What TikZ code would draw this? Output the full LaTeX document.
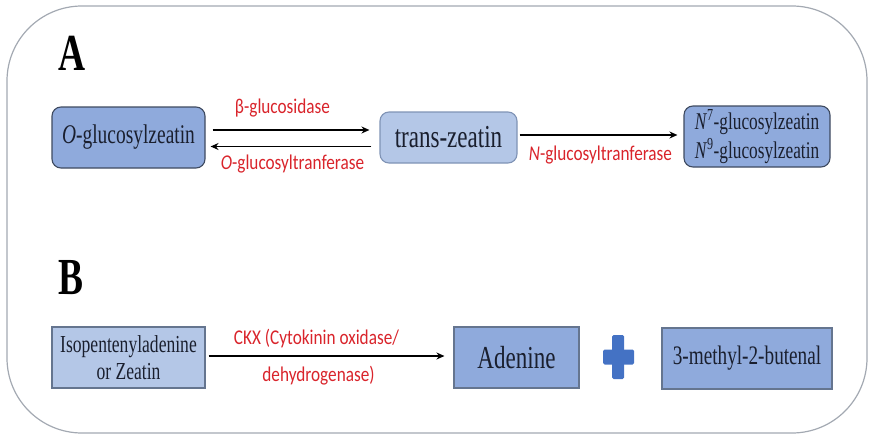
\documentclass[tikz,border=0pt]{standalone}
\usepackage{fontspec}
\newfontfamily\boxfont{Liberation Serif}[FakeStretch=0.72]
\newfontfamily\enzfont{Carlito}[FakeStretch=0.82]
\usetikzlibrary{arrows.meta}
\definecolor{boxdark}{HTML}{8FAADC}
\definecolor{boxlight}{HTML}{B4C7E7}
\definecolor{edgedark}{HTML}{3E4A60}
\definecolor{edgelight}{HTML}{7F93B5}
\definecolor{edgemid}{HTML}{65758F}
\definecolor{enzred}{HTML}{D9242B}
\definecolor{plusblue}{HTML}{4472C4}
\definecolor{framegray}{HTML}{A3A9B2}
\definecolor{inktext}{HTML}{1A1F2E}

\begin{document}
\begin{tikzpicture}[x=1pt,y=-1pt,
  compound/.style={draw=edgedark,line width=1.1pt,fill=boxdark,text=inktext,inner sep=0pt,align=center},
  enz/.style={text=enzred,inner sep=0pt,font=\enzfont\fontsize{21}{24}\selectfont},
  flow/.style={-{Stealth[length=8pt,width=7pt]},line width=1.5pt},
  panel/.style={inner sep=0pt,font=\boxfont\bfseries\fontsize{52}{60}\selectfont}]
\useasboundingbox (0,0) rectangle (870,436);
\draw[framegray,line width=1.2pt,rounded corners=75pt] (7,6) rectangle (867,433); % outer frame
% A
\node[panel] (pa) at (72,53.5) {A}; % A label
\node[compound,rounded corners=9pt,minimum width=153pt,minimum height=61pt,font=\boxfont\fontsize{27}{32}\selectfont] (og) at (128.5,137.5) {\textit{O}-glucosylzeatin};
\node[compound,fill=boxlight,draw=edgelight,rounded corners=9pt,minimum width=137pt,minimum height=51pt,font=\boxfont\fontsize{32}{38}\selectfont] (tz) at (448.5,137.5) {trans-zeatin};
\node[compound,rounded corners=9pt,minimum width=146pt,minimum height=61pt,font=\boxfont\fontsize{24}{29}\selectfont] (ng) at (757,136.5) {\textit{N}\textsuperscript{7}-glucosylzeatin\\\textit{N}\textsuperscript{9}-glucosylzeatin};
\draw[flow,shorten <=7pt,shorten >=10pt] ([yshift=7.5pt]og.east) -- ([yshift=7.5pt]tz.west)
  node[enz,midway,above=12pt,xshift=-10pt] (lbg) {β-glucosidase};
\draw[flow,shorten <=8pt,shorten >=5pt] ([yshift=-9pt]tz.west) -- ([yshift=-9pt]og.east)
  node[enz,midway,below=8pt] (log) {\textit{O}-glucosyltranferase};
\draw[flow,shorten <=2pt,shorten >=6pt] ([yshift=2.5pt]tz.east) -- ([yshift=2.5pt]tz.east -| ng.west)
  node[enz,midway,below=10pt] (lng) {\textit{N}-glucosyltranferase};
% B
\node[panel] (pb) at (71,278) {B}; % B label
\node[compound,fill=boxlight,draw=edgemid,minimum width=153pt,minimum height=61pt,font=\boxfont\fontsize{24.4}{27}\selectfont] (ip) at (128.5,357.5) {Isopentenyladenine\\or Zeatin};
\node[compound,draw=edgemid,minimum width=125pt,minimum height=61pt,font=\boxfont\fontsize{32}{38}\selectfont] (ad) at (516.5,357.5) {Adenine};
\node[compound,draw=edgemid,minimum width=170pt,minimum height=61pt,font=\boxfont\fontsize{26.7}{32}\selectfont] (mb) at (747,358.5) {3-methyl-2-butenal};
\draw[flow,shorten <=3pt,shorten >=9pt] ([yshift=1.5pt]ip.east) -- ([yshift=1.5pt]ip.east -| ad.west)
  node[enz,midway,above=7pt,xshift=-13pt] (lck) {CKX (Cytokinin oxidase/}
  node[enz,midway,below=9pt,xshift=-11pt] (ldh) {dehydrogenase)};
\fill[plusblue,rounded corners=1.5pt] (612,335) rectangle (624,379); % plus sign
\fill[plusblue,rounded corners=1.5pt] (603,349.5) rectangle (634,364.5);
\end{tikzpicture}
\end{document}
